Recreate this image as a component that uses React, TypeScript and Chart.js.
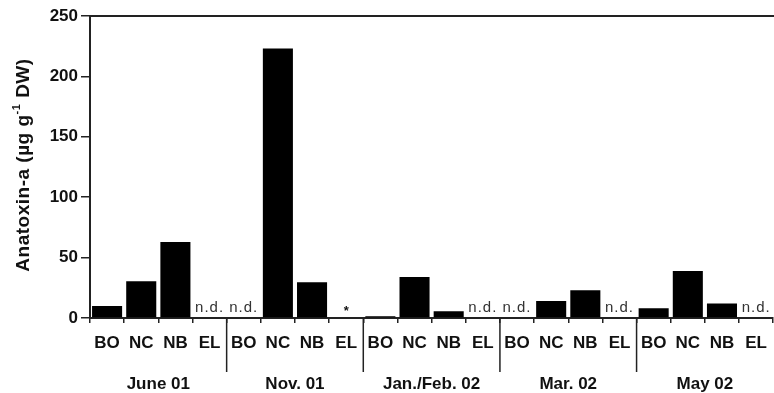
import React, { useEffect, useRef } from "react";
import { Chart, registerables } from "chart.js";

Chart.register(...registerables);

const groups = ["June 01", "Nov. 01", "Jan./Feb. 02", "Mar. 02", "May 02"];
const sites = ["BO", "NC", "NB", "EL"];
// Anatoxin-a (µg g-1 DW) per sample, in group order (null = not shown as a bar)
const values: (number | null)[] = [
  10, 30.5, 63, null,
  null, 223, 29.5, null,
  1.5, 34, 5.5, null,
  null, 14, 23, null,
  8, 39, 12, null,
];
const notes = [
  "", "", "", "n.d.",
  "n.d.", "", "", "*",
  "", "", "", "n.d.",
  "n.d.", "", "", "n.d.",
  "", "", "", "n.d.",
];
const yTicks = [0, 50, 100, 150, 200, 250];

const FONT = "'Liberation Sans', Arial, sans-serif";

export default function App() {
  const ref = useRef<HTMLCanvasElement | null>(null);

  useEffect(() => {
    document.body.style.margin = "0";
    const canvas = ref.current!;
    const labels = groups.flatMap(() => sites);

    const overlay = {
      id: "overlay",
      afterDraw(chart: any) {
        const ctx = chart.ctx as CanvasRenderingContext2D;
        const area = chart.chartArea;
        const xs = chart.scales.x;
        ctx.save();
        // top frame line
        ctx.strokeStyle = "#222";
        ctx.lineWidth = 2;
        ctx.beginPath();
        ctx.moveTo(area.left, area.top);
        ctx.lineTo(area.right + 2, area.top);
        ctx.stroke();
        // group separators
        ctx.lineWidth = 1.5;
        for (let g = 1; g < groups.length; g++) {
          const x = (xs.getPixelForValue(4 * g - 1) + xs.getPixelForValue(4 * g)) / 2;
          ctx.beginPath();
          ctx.moveTo(x, area.bottom);
          ctx.lineTo(x, 372);
          ctx.stroke();
        }
        // group labels
        ctx.fillStyle = "#111";
        ctx.font = `bold 17px ${FONT}`;
        ctx.textAlign = "center";
        ctx.textBaseline = "middle";
        groups.forEach((gname, g) => {
          const x = (xs.getPixelForValue(4 * g) + xs.getPixelForValue(4 * g + 3)) / 2;
          ctx.fillText(gname, x, 384);
        });
        // notes
        notes.forEach((n, i) => {
          if (!n) return;
          const x = xs.getPixelForValue(i);
          ctx.textBaseline = "alphabetic";
          if (n === "*") {
            ctx.font = `bold 13px ${FONT}`;
            ctx.fillText(n, x, 315);
          } else {
            ctx.font = `15px ${FONT}`;
            (ctx as any).letterSpacing = "1px";
            ctx.fillStyle = "#333";
            ctx.fillText(n, x, 312);
            (ctx as any).letterSpacing = "0px";
            ctx.fillStyle = "#111";
          }
        });
        // y-axis title with superscript
        const cx = 23;
        const cy = (area.top + area.bottom) / 2 - 2;
        ctx.translate(cx, cy);
        ctx.rotate(-Math.PI / 2);
        ctx.textAlign = "left";
        ctx.textBaseline = "middle";
        (ctx as any).letterSpacing = "0.5px";
        const main1 = "Anatoxin-a (µg g";
        const sup = "-1";
        const main2 = " DW)";
        const fMain = `bold 19px ${FONT}`;
        const fSup = `bold 11px ${FONT}`;
        ctx.font = fMain;
        const w1 = ctx.measureText(main1).width;
        const w3 = ctx.measureText(main2).width;
        ctx.font = fSup;
        const w2 = ctx.measureText(sup).width;
        let x0 = -(w1 + w2 + w3) / 2;
        ctx.font = fMain;
        ctx.fillText(main1, x0, 1);
        x0 += w1;
        ctx.font = fSup;
        ctx.fillText(sup, x0, -6);
        x0 += w2;
        ctx.font = fMain;
        ctx.fillText(main2, x0, 1);
        (ctx as any).letterSpacing = "0px";
        ctx.restore();
      },
    };

    const chart = new Chart(canvas, {
      type: "bar",
      data: {
        labels,
        datasets: [
          {
            data: values,
            backgroundColor: "#000",
            borderColor: "#000",
            borderWidth: 0,
            barPercentage: 0.88,
            categoryPercentage: 1,
          },
        ],
      },
      options: {
        responsive: false,
        animation: false,
        layout: { padding: { top: 16, right: 0, left: 0, bottom: 0 } },
        plugins: {
          legend: { display: false },
          tooltip: { enabled: false },
          title: { display: false },
        },
        scales: {
          x: {
            offset: true,
            grid: {
              offset: true,
              drawOnChartArea: false,
              drawTicks: true,
              tickLength: 5,
              color: "#222",
              lineWidth: 1.5,
            },
            border: { display: true, color: "#222", width: 2 },
            ticks: {
              color: "#111",
              font: { family: FONT, size: 17, weight: "bold" },
              padding: 10,
              maxRotation: 0,
              autoSkip: false,
            },
            afterFit: (s: any) => {
              s.height = 75;
            },
          },
          y: {
            min: 0,
            max: 250,
            afterBuildTicks: (s: any) => {
              s.ticks = yTicks.map((v) => ({ value: v }));
            },
            grid: {
              drawOnChartArea: false,
              drawTicks: true,
              tickLength: 9,
              color: "#222",
              lineWidth: 1.5,
            },
            border: { display: true, color: "#222", width: 2 },
            ticks: {
              color: "#111",
              font: { family: FONT, size: 17, weight: "bold" },
              padding: 3,
            },
            afterFit: (s: any) => {
              s.width = 90;
            },
          },
        },
      },
      plugins: [overlay],
    });
    return () => chart.destroy();
  }, []);

  return (
    <div style={{ width: 774, height: 393, overflow: "hidden" }}>
      <canvas ref={ref} width={777} height={393} style={{ display: "block" }} />
    </div>
  );
}
